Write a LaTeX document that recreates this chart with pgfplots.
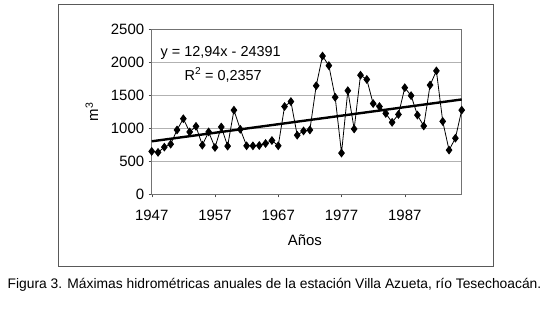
\documentclass[border=0pt]{standalone}
\usepackage{pgfplots}
\pgfplotsset{compat=1.18}
\usepackage{fontspec}
\setmainfont{Liberation Sans}
\begin{document}
\begin{tikzpicture}[x=1bp,y=1bp]
\useasboundingbox (0,0) rectangle (549,309);
\draw[black!65, line width=0.9bp] (58,42.3) rectangle (493,304.3);
\begin{axis}[
  at={(151.7bp,114.7bp)}, anchor=south west,
  scale only axis, width=310bp, height=165bp,
  xmin=1947, xmax=1996, ymin=0, ymax=2500,
  xtick={1947,1957,1967,1977,1987},
  ytick={0,500,1000,1500,2000,2500},
  /pgf/number format/assume math mode=true,
  /pgf/number format/1000 sep={},
  tick label style={font=\fontsize{15}{17}\selectfont},
  xticklabel style={yshift=-9bp},
  yticklabel style={xshift=-1bp},
  label style={font=\fontsize{15}{17}\selectfont},
  tick align=outside, major tick length=3bp,
  xtick pos=bottom, ytick pos=left,
  ymajorgrids, grid style={black!30, line width=0.6bp},
  axis line style={black!55, line width=0.8bp},
  tick style={black!70},
  xlabel={Años}, ylabel={m\textsuperscript{3}},
  xlabel style={at={(axis description cs:0.494,-0.277)}, anchor=center},
  ylabel style={at={(axis description cs:-0.193,0.5)}, anchor=center},
  clip=false,
]
\addplot[black, line width=0.8bp, mark=diamond*, mark size=3.8bp, mark options={solid, fill=black}] coordinates {
(1947,650) (1948,635) (1949,715) (1950,760) (1951,975) (1952,1145) (1953,945) (1954,1030)
(1955,745) (1956,945) (1957,710) (1958,1020) (1959,730) (1960,1275) (1961,985) (1962,735)
(1963,735) (1964,740) (1965,770) (1966,815) (1967,735) (1968,1330) (1969,1405) (1970,895)
(1971,960) (1972,975) (1973,1645) (1974,2095) (1975,1950) (1976,1470) (1977,625) (1978,1570)
(1979,990) (1980,1805) (1981,1740) (1982,1375) (1983,1330) (1984,1225) (1985,1090) (1986,1210)
(1987,1615) (1988,1495) (1989,1200) (1990,1035) (1991,1655) (1992,1870) (1993,1105) (1994,670)
(1995,850) (1996,1275)
};
\addplot[black, line width=2.4bp, no marks] coordinates {(1947,803) (1996,1437)};
\node[font=\fontsize{14.5}{16}\selectfont] at (axis cs:1957.9,2141) {y = 12,94x - 24391};
\node[font=\fontsize{14.5}{16}\selectfont] at (axis cs:1958.3,1808) {R\textsuperscript{2} = 0,2357};
\end{axis}
\node[font=\fontsize{13.9}{15}\selectfont] at (274.5,24) {Figura 3. Máximas hidrométricas anuales de la estación Villa Azueta, río Tesechoacán.};
\end{tikzpicture}
\end{document}
